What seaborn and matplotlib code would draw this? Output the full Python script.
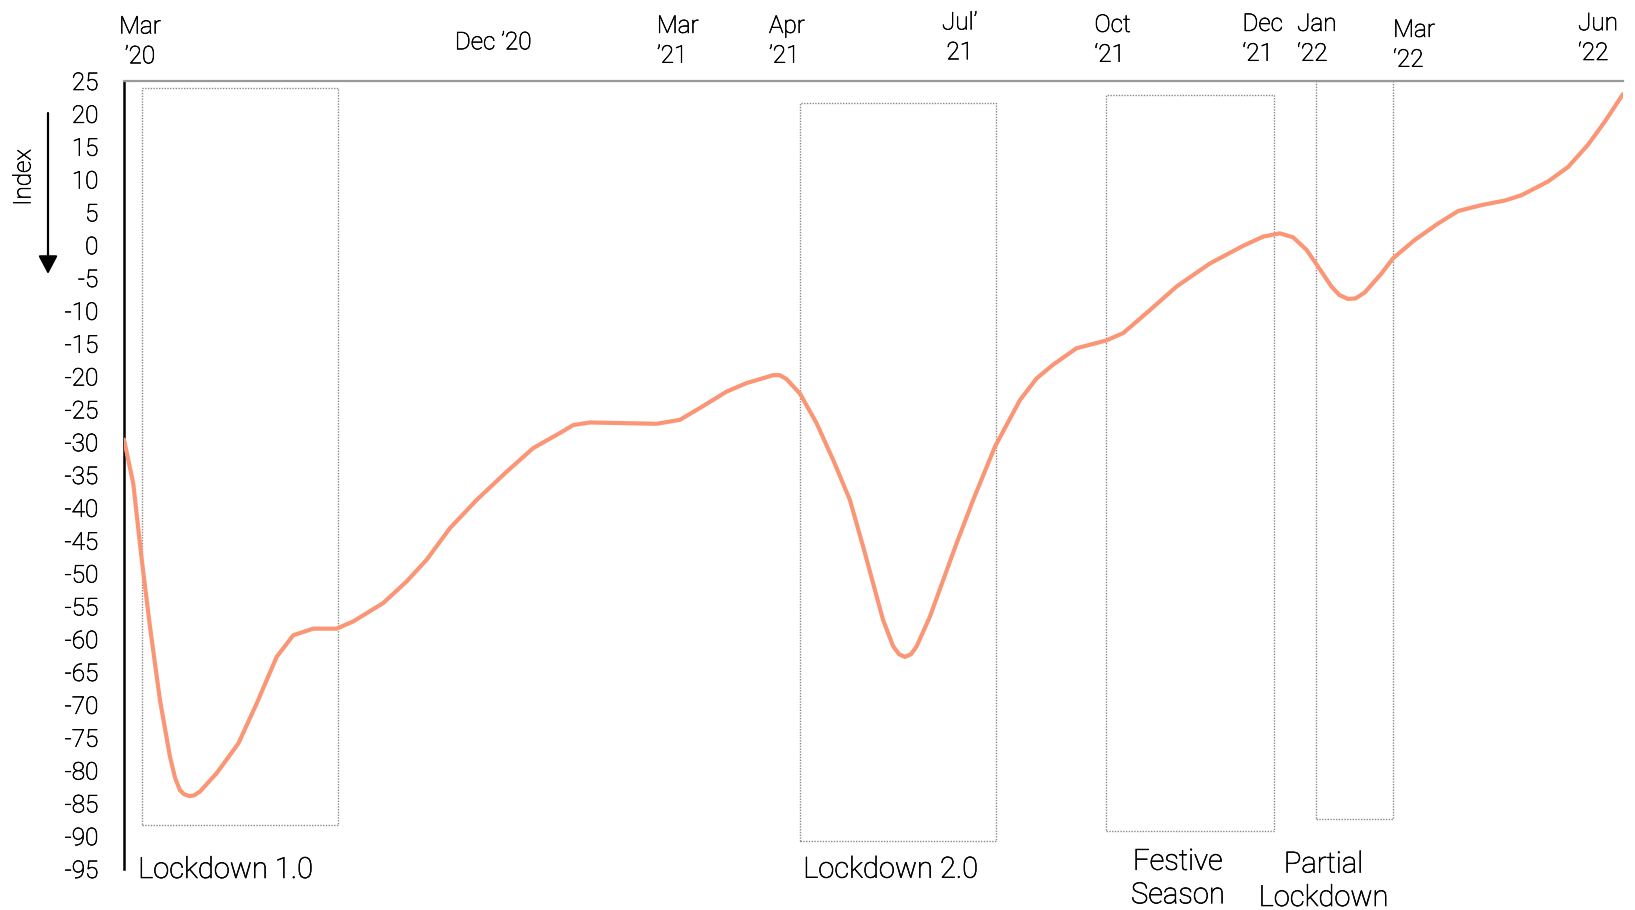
import matplotlib
matplotlib.use("Agg")
import matplotlib.pyplot as plt
import matplotlib.transforms as mtransforms
import matplotlib.patheffects as pe
from matplotlib.patches import Rectangle
import seaborn as sns
import pandas as pd

# Weekly index readings, Mar 2020 (week 0) through Jun 2022 (week 120)
weeks = [0.0, 0.74, 1.42, 2.08, 2.88, 3.68, 4.1, 4.48, 4.8, 5.23, 5.6, 6.08, 7.42,
         9.15, 10.62, 12.22, 13.55, 15.15, 17.02, 18.35, 20.75, 22.63, 24.23,
         26.09, 28.23, 30.63, 32.76, 34.9, 35.96, 37.3, 39.96, 42.64, 44.5, 46.1,
         48.24, 49.84, 51.97, 52.5, 53.04, 54.11, 55.44, 56.77, 58.11, 59.17,
         59.97, 60.77, 61.58, 62.05, 62.51, 63.0, 63.45, 64.51, 65.58, 66.65,
         67.98, 69.72, 71.72, 73.05, 74.38, 76.25, 78.65, 79.98, 82.12, 84.26,
         86.92, 89.59, 91.19, 92.53, 93.59, 94.66, 95.46, 96.66, 97.3, 97.99,
         98.6, 99.33, 100.67, 101.59, 103.33, 105.2, 106.8, 108.67, 110.54,
         111.87, 114.0, 115.6, 117.2, 118.54, 120.0]
index_values = [-29.6, -36.3, -47.9, -58.1, -69.3, -77.9, -81.2, -83.0, -83.6, -83.9,
                -83.8, -83.2, -80.4, -75.9, -69.8, -62.7, -59.4, -58.4, -58.4, -57.3,
                -54.5, -51.2, -47.9, -43.1, -38.8, -34.5, -30.9, -28.6, -27.4, -27.0,
                -27.1, -27.2, -26.6, -24.8, -22.3, -21.0, -19.8, -19.8, -20.4, -22.6,
                -27.1, -32.7, -38.8, -45.9, -51.5, -57.1, -61.1, -62.3, -62.7, -62.3,
                -61.1, -56.6, -51.0, -45.4, -38.8, -30.7, -23.6, -20.3, -18.2, -15.7,
                -14.5, -13.4, -9.9, -6.3, -2.8, -0.1, 1.3, 1.8, 1.2, -0.7, -2.9, -6.3,
                -7.6, -8.2, -8.1, -7.2, -4.3, -2.0, 0.8, 3.3, 5.2, 6.1, 6.8, 7.6, 9.7,
                11.9, 15.3, 18.8, 23.0]

# Period labels along the top
period_labels = ["Mar\n\u201920", "Dec \u201920", "Mar\n\u201921", "Apr\n\u201921",
                 "Jul\u2019\n21", "Oct\n\u201821", "Dec\n\u201821", "Jan\n\u201822",
                 "Mar\n\u201822", "Jun\n\u201822"]
period_weeks = [1.28, 29.55, 42.66, 51.63, 66.9, 77.69, 89.54, 93.91, 101.6, 116.4]

# Event windows: (start week, end week, top, bottom)
event_names = ["Lockdown 1.0", "Lockdown 2.0", "Festive\nSeason", "Partial\nLockdown"]
event_start = [1.42, 54.11, 78.65, 95.46]
event_end = [17.1, 69.8, 92.07, 101.55]
event_top = [24.0, 21.6, 22.8, 25.0]
event_bottom = [-88.3, -90.7, -89.2, -87.4]

y_ticks = list(range(25, -100, -5))

sns.set_theme(style="white")
plt.rcParams["font.family"] = ["Roboto", "DejaVu Sans"]

TEXT = "#000000"
LINE = "#FA9675"
GREY = "#999999"
WEIGHT = "light"
# a hairline outline gives the light face a little more body
INK = [pe.withStroke(linewidth=0.45, foreground=TEXT)]

fig = plt.figure(figsize=(16.35, 9.10), dpi=100)
ax = fig.add_axes([124 / 1635, 41 / 910, 1499 / 1635, 788 / 910])

df = pd.DataFrame({"week": weeks, "index": index_values})
sns.lineplot(data=df, x="week", y="index", ax=ax, color=LINE, linewidth=3.0,
             estimator=None, sort=False, solid_capstyle="round",
             solid_joinstyle="round", zorder=3)

ax.set_xlim(0, 120)
ax.set_ylim(-95, 25)
ax.set_yticks(y_ticks)
ax.set_yticklabels([str(v) for v in y_ticks])
ax.set_xticks([])
ax.set_xlabel("")
ax.set_ylabel("")

for side in ["right", "bottom"]:
    ax.spines[side].set_visible(False)
ax.spines["left"].set_color("black")
ax.spines["left"].set_linewidth(1.8)
ax.spines["top"].set_color(GREY)
ax.spines["top"].set_linewidth(1.6)
ax.tick_params(axis="y", direction="out", length=6, width=1.6, color="black",
               pad=12.5, labelsize=17.5, labelcolor=TEXT)
for lbl in ax.get_yticklabels():
    lbl.set_fontweight(WEIGHT)
    lbl.set_path_effects(INK)

# dotted event windows and their captions
for x0, x1, top, bot in zip(event_start, event_end, event_top, event_bottom):
    ax.add_patch(Rectangle((x0, bot), x1 - x0, top - bot, fill=False,
                           edgecolor="#8a8a8a", linewidth=1.0, linestyle=(0, (1, 1)),
                           zorder=2))

# baseline of the last line of each caption, in pixels from the top
fig_h = 910
event_label_x = [8.12, 61.36, 84.36, 96.02]
event_label_px = [878, 877.7, 903.3, 906]
trans = mtransforms.blended_transform_factory(ax.transData, fig.transFigure)
for name, lx, py in zip(event_names, event_label_x, event_label_px):
    ax.text(lx, 1 - py / fig_h, name, transform=trans, ha="center", va="baseline",
            fontsize=21, fontweight=WEIGHT, color=TEXT, linespacing=1.25,
            clip_on=False, path_effects=INK)

# period labels above the chart (last-line baselines in pixels from the top)
period_baseline_px = [63.3, 49.3, 62.7, 62.7, 59.3, 61.7, 60.7, 60.7, 66.7, 60.0]
period_ha = ["center", "center", "left", "left", "center", "left", "left", "left",
             "left", "left"]
for lab, wx, by, ha in zip(period_labels, period_weeks, period_baseline_px, period_ha):
    ax.text(wx, 1 - by / fig_h, lab, transform=trans, ha=ha, va="baseline",
            multialignment=ha, fontsize=17.5, fontweight=WEIGHT, color=TEXT,
            linespacing=1.38, clip_on=False, path_effects=INK)

# axis caption with downward arrow
fig.text(24 / 1635, 1 - 177.5 / fig_h, "Index", rotation=90, ha="center",
         va="center", fontsize=17.5, fontweight=WEIGHT, color=TEXT, path_effects=INK)
ax.annotate("", xy=(48, fig_h - 274), xycoords="figure pixels",
            xytext=(48, fig_h - 113), textcoords="figure pixels",
            arrowprops=dict(arrowstyle="-|>,head_length=0.55,head_width=0.29",
                            mutation_scale=20, lw=1.6, color="black",
                            shrinkA=0, shrinkB=0))

fig.savefig("out.png", dpi=100)
